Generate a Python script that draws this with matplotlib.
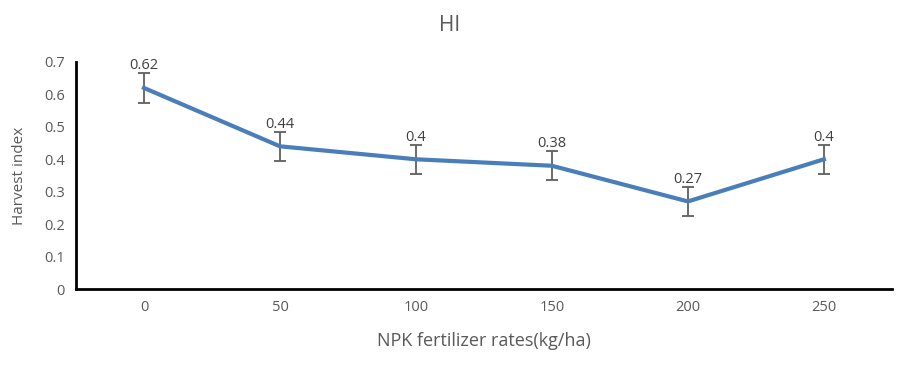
import matplotlib.pyplot as plt

rates = ['0', '50', '100', '150', '200', '250']
hi = [0.62, 0.44, 0.40, 0.38, 0.27, 0.40]
err = [0.045, 0.045, 0.045, 0.045, 0.045, 0.045]
labels = ['0.62', '0.44', '0.4', '0.38', '0.27', '0.4']

plt.rcParams['font.family'] = ['Open Sans', 'DejaVu Sans']
grey = '#595959'

fig = plt.figure(figsize=(9, 3.69), dpi=100)
ax = fig.add_axes([0.0844, 0.2168, 0.9066, 0.6152])

x = list(range(len(rates)))
ax.errorbar(x, hi, yerr=err, color='#4a7ebb', lw=3, ecolor='#5f5f5f',
            elinewidth=1.3, capsize=4, capthick=1.3, zorder=3)
for xi, yi, lab in zip(x, hi, labels):
    ax.annotate(lab, (xi, yi + err[0]), xytext=(0, 0), textcoords='offset points',
                ha='center', va='bottom', fontsize=10.5, color='#404040')

ax.set_xlim(-0.5, len(rates) - 0.5)
ax.set_ylim(0, 0.7)
ax.set_xticks(x)
ax.set_xticklabels(rates)
ax.set_yticks([0, 0.1, 0.2, 0.3, 0.4, 0.5, 0.6, 0.7])
ax.set_yticklabels(['0', '0.1', '0.2', '0.3', '0.4', '0.5', '0.6', '0.7'])
ax.tick_params(axis='both', length=0, labelsize=10.5, colors=grey, pad=8)

for s in ['top', 'right']:
    ax.spines[s].set_visible(False)
ax.spines['left'].set_linewidth(2)
ax.spines['bottom'].set_linewidth(2)

ax.set_xlabel('NPK fertilizer rates(kg/ha)', fontsize=13, color=grey, labelpad=12)
ax.set_ylabel('Harvest index', fontsize=11, color=grey, labelpad=12)
fig.text(0.5, 0.93, 'HI', ha='center', va='center', fontsize=15, color=grey)

fig.savefig('out.png', dpi=100)
